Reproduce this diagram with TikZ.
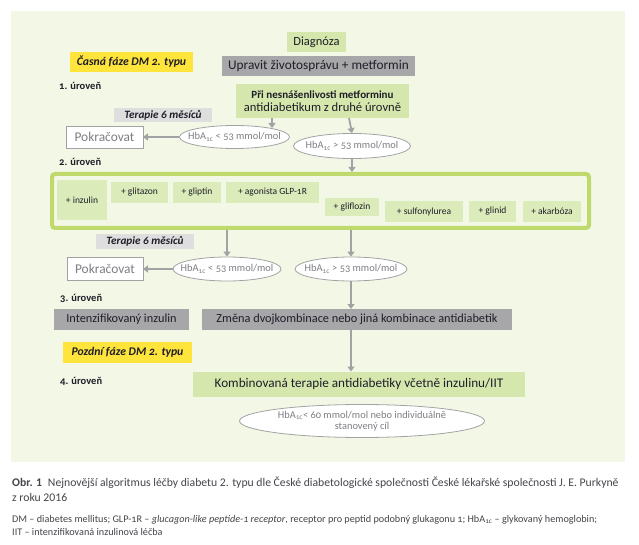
\documentclass[tikz,border=0pt]{standalone}
\usepackage{fontspec}
\setmainfont{Carlito}[Numbers=OldStyle]
\newfontfamily\capfont{Carlito}
\usetikzlibrary{arrows.meta,shapes.geometric}
\definecolor{panel}{HTML}{F3F8E6}
\definecolor{gfill}{HTML}{D6E7AE}
\definecolor{ifill}{HTML}{DCEBBA}
\definecolor{grayb}{HTML}{A7A7AA}
\definecolor{terb}{HTML}{DEDEDF}
\definecolor{yel}{HTML}{FFE43C}
\definecolor{frm}{HTML}{BFD96C}
\definecolor{arrc}{HTML}{A2A2A4}
\definecolor{txt}{HTML}{1E1E28}
\definecolor{gtxt}{HTML}{7E7E85}
\definecolor{captxt}{HTML}{45454B}
\tikzset{
  box/.style={inner sep=0pt, align=center, text=txt, outer sep=0pt},
  gbox/.style={box, fill=gfill},
  ibox/.style={box, fill=ifill, font=\fontsize{9.5}{10}\selectfont},
  graybox/.style={box, fill=grayb},
  terbox/.style={box, fill=terb, font=\bfseries\itshape\fontsize{11.2}{12}\selectfont},
  yelbox/.style={box, fill=yel, font=\bfseries\itshape\fontsize{11.7}{12}\selectfont},
  pokbox/.style={box, fill=white, draw=arrc, line width=0.8pt, text=gtxt, font=\fontsize{13.4}{14}\selectfont},
  ell/.style={ellipse, draw=arrc, line width=0.8pt, fill=white, inner sep=0pt},
  elltxt/.style={inner sep=0pt, text=gtxt, align=center, font=\fontsize{10.4}{11.5}\selectfont},
  lvl/.style={anchor=west, inner sep=0pt, text=txt, font=\bfseries\fontsize{10.5}{11}\selectfont},
  arr/.style={draw=arrc, line width=1.8pt, -{Triangle[length=5pt,width=7pt]}},
}
\begin{document}
\begin{tikzpicture}[x=1pt,y=-1pt]
\useasboundingbox (0,0) rectangle (639,545);
\fill[white] (0,0) rectangle (639,545);
\fill[panel] (11,11) rectangle (625,462);

% top
\node[gbox, minimum width=59, minimum height=20, font=\fontsize{12.5}{13}\selectfont] (diag) at (316.5,42) {Diagnóza};
\node[graybox, minimum width=193, minimum height=20, font=\fontsize{13.3}{14}\selectfont] (uprav) at (318.5,66) {Upravit životosprávu + metformin};
\node[yelbox, minimum width=123, minimum height=20] (casna) at (131.5,62) {Časná fáze DM 2. typu};
\node[lvl] (l1) at (59,86) {1. úroveň};
\node[gbox, minimum width=173, minimum height=34] (pri) at (322.5,101)
  {{\bfseries\fontsize{11}{13}\selectfont Při nesnášenlivosti metforminu}\\[0.5pt]{\fontsize{12.6}{13}\selectfont antidiabetikum z druhé úrovně}};
\node[terbox, minimum width=98, minimum height=14] (ter1) at (163,115) {Terapie 6 měsíců};
\node[pokbox, minimum width=77, minimum height=22] (pok1) at (104.5,137) {Pokračovat};
\node[ell, minimum width=110, minimum height=23] (ell1) at (234.5,137) {};
\node[elltxt] (ell1t) at (ell1) {HbA\textsubscript{1c} < 53 mmol/mol};
\node[ell, minimum width=117, minimum height=25] (ell2) at (352,146) {};
\node[elltxt] (ell2t) at (ell2) {HbA\textsubscript{1c} > 53 mmol/mol};

\draw[arr] ([xshift=-50.5pt]pri.south) -- ++(0,10);
\draw[arr] ([xshift=26.5pt]pri.south) -- (ell2.north);
\draw[arr] (ell1.west) -- (pok1.east);

% level 2
\node[lvl] (l2) at (59,162) {2. úroveň};
\node[draw=frm, line width=4pt, rounded corners=3pt, minimum width=537, minimum height=54, inner sep=0pt] (grp) at (320.5,201) {};
\node[ibox, minimum width=50, minimum height=40] (inz) at (82,200) {+ inzulin};
\node[ibox, minimum width=57, minimum height=21] (glit) at (139.5,192.5) {+ glitazon};
\node[ibox, minimum width=48, minimum height=21] (glip) at (197,192.5) {+ gliptin};
\node[ibox, minimum width=93, minimum height=21] (agon) at (272.5,192.5) {+ agonista GLP-1R};
\node[ibox, minimum width=54, minimum height=18] (glif) at (352,207) {+ gliflozin};
\node[ibox, minimum width=78, minimum height=21] (sulf) at (424,211.5) {+ sulfonylurea};
\node[ibox, minimum width=47, minimum height=21] (glin) at (492.5,211.5) {+ glinid};
\node[ibox, minimum width=58, minimum height=21] (akar) at (552,211.5) {+ akarbóza};

\draw[arr] (ell2.south) -- (ell2.south |- grp.north);

% after level 2
\node[terbox, minimum width=98, minimum height=15] (ter2) at (145,241.5) {Terapie 6 měsíců};
\node[pokbox, minimum width=76, minimum height=23] (pok2) at (105,269) {Pokračovat};
\node[ell, minimum width=108, minimum height=24] (ell3) at (227,269) {};
\node[elltxt] (ell3t) at (ell3) {HbA\textsubscript{1c} < 53 mmol/mol};
\node[ell, minimum width=112, minimum height=24] (ell4) at (351,269) {};
\node[elltxt] (ell4t) at (ell4) {HbA\textsubscript{1c} > 53 mmol/mol};
\draw[arr] (grp.south -| ell3.north) -- (ell3.north);
\draw[arr] (grp.south -| ell4.north) -- (ell4.north);
\draw[arr] (ell3.west) -- (pok2.east);

% level 3
\node[lvl] (l3) at (60,298) {3. úroveň};
\node[graybox, minimum width=135, minimum height=21, font=\fontsize{12.3}{13}\selectfont] (inten) at (121.5,319.5) {Intenzifikovaný inzulin};
\node[graybox, minimum width=310, minimum height=21, font=\fontsize{12.3}{13}\selectfont] (zmena) at (357,319.5) {Změna dvojkombinace nebo jiná kombinace antidiabetik};
\draw[arr] (ell4.south) -- (ell4.south |- zmena.north);

% late phase
\node[yelbox, minimum width=129, minimum height=21] (pozd) at (127.5,352.5) {Pozdní fáze DM 2. typu};
\node[lvl] (l4) at (60,381) {4. úroveň};
\node[gbox, minimum width=332, minimum height=25, font=\fontsize{13.2}{14}\selectfont] (komb) at (359,384) {Kombinovaná terapie antidiabetiky včetně inzulinu/IIT};
\draw[arr] (ell4.south |- zmena.south) -- (ell4.south |- komb.north);
\node[ell, minimum width=245, minimum height=33] (fin) at (362,421) {};
\node[elltxt] (fint) at (fin) {HbA\textsubscript{1c}< 60 mmol/mol nebo individuálně\\stanovený cíl};

% caption
\node[anchor=base west, inner sep=0pt, text=captxt, font=\capfont\fontsize{11.7}{12}\selectfont] (cap1) at (12,486) {\textbf{Obr. 1}\enspace Nejnovější algoritmus léčby diabetu 2. typu dle České diabetologické společnosti České lékařské společnosti J. E. Purkyně};
\node[anchor=base west, inner sep=0pt, text=captxt, font=\capfont\fontsize{11.7}{12}\selectfont] (cap2) at (12,501) {z roku 2016};
\node[anchor=base west, inner sep=0pt, text=captxt, font=\fontsize{10.2}{11}\selectfont] (fn1) at (12,522) {DM – diabetes mellitus; GLP-1R – \textit{glucagon-like peptide-1 receptor}, receptor pro peptid podobný glukagonu 1; HbA\textsubscript{1c} – glykovaný hemoglobin;};
\node[anchor=base west, inner sep=0pt, text=captxt, font=\fontsize{10.2}{11}\selectfont] (fn2) at (12,535) {IIT – intenzifikovaná inzulinová léčba};
\end{tikzpicture}
\end{document}
